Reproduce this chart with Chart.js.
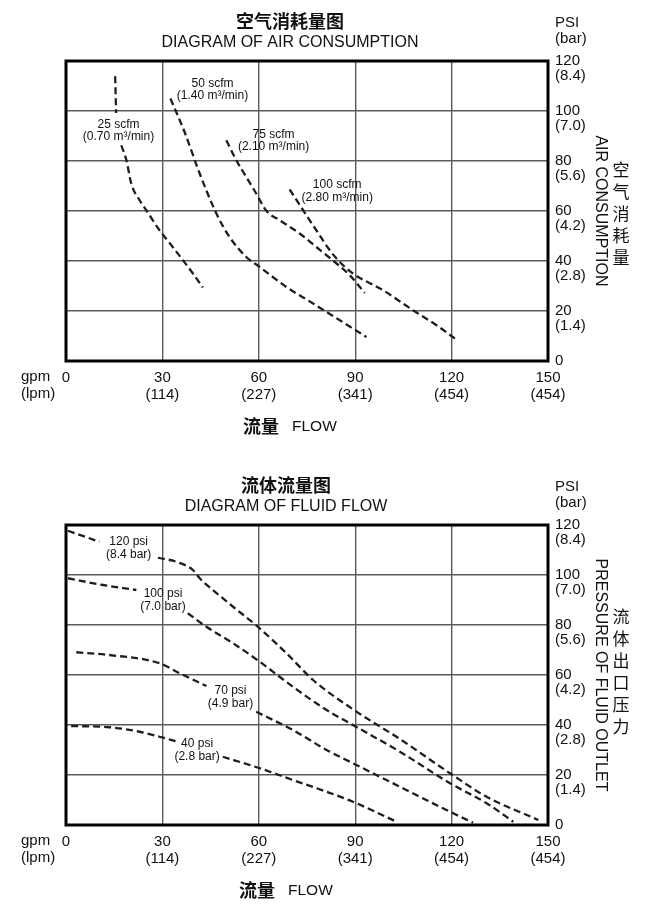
<!DOCTYPE html>
<html>
<head>
<meta charset="utf-8">
<script src="https://cdn.jsdelivr.net/npm/chart.js@4.4.1/dist/chart.umd.min.js"></script>
<style>
  html, body { margin: 0; padding: 0; background: #fff; }
  .wrap { position: absolute; left: 0; }
</style>
</head>
<body>
<div class="wrap" style="top:0"><canvas id="air" width="667" height="454"></canvas></div>
<div class="wrap" style="top:464px"><canvas id="fluid" width="667" height="454"></canvas></div>
<script>
// ---------- tick labels ----------
const gpmTicks = ['0', '30', '60', '90', '120', '150'];
const lpmTicks = ['', '(114)', '(227)', '(341)', '(454)', '(454)'];
const psiTicks = ['0', '20', '40', '60', '80', '100', '120'];
const barTicks = ['', '(1.4)', '(2.8)', '(4.2)', '(5.6)', '(7.0)', '(8.4)'];

// ---------- air consumption (x = gpm, y = psi); null = gap behind label ----------
const air25Flow = [15.3, 15.6, 16.4, 17.2, 18.8, 20.3, 22.9, 25.0, 29.1, 32.8, 36.4, 39.5, 42.6];
const air25Psi  = [113.9, 99.2, null, 86.3, 80.3, 71.0, 64.3, 60.3, 52.3, 46.3, 40.3, 35.0, 29.4];
const air50Flow = [32.5, 36.9, 41.6, 46.8, 50.9, 56.1, 60.3, 68.6, 76.9, 85.2, 93.5];
const air50Psi  = [105.0, 91.6, 75.0, 59.0, 49.6, 41.6, 37.6, 29.6, 23.0, 16.3, 9.6];
const air75Flow = [49.9, 53.0, 56.1, 59.2, 62.4, 66.5, 72.7, 77.9, 84.2, 88.3, 93.0];
const air75Psi  = [88.3, 80.3, 73.6, 67.0, 60.0, 56.3, 51.0, 45.6, 39.0, 34.3, 27.2];
const air100Flow = [69.6, 73.8, 77.9, 82.1, 85.2, 89.3, 98.7, 108.0, 115.3, 121.0];
const air100Psi  = [68.6, 60.3, 52.3, 44.3, 39.6, 35.0, 28.3, 20.3, 14.3, 9.0];
const airNames = ['25 scfm', '50 scfm', '75 scfm', '100 scfm'];
const airSubs  = ['(0.70 m³/min)', '(1.40 m³/min)', '(2.10 m³/min)', '(2.80 m³/min)'];

// ---------- fluid flow (x = gpm, y = outlet psi) ----------
const f120Flow = [0.6, 10.4, 19.5, 28.6, 34.3, 39.5, 41.6, 45.7, 52.0, 59.7, 68.6, 76.9, 89.3, 103.9, 119.5, 130.9, 147.0];
const f120Psi  = [117.7, 113.3, null, 106.9, 105.3, 102.0, 98.7, 94.0, 87.3, 79.3, 68.7, 58.0, 46.3, 34.4, 20.7, 11.3, 2.0];
const f100Flow = [0.6, 11.5, 21.9, 30.0, 37.9, 43.7, 52.0, 60.3, 70.6, 81.1, 89.3, 103.9, 119.5, 130.9, 139.2];
const f100Psi  = [98.7, 96.0, 94.0, null, 84.7, 79.3, 72.7, 65.3, 55.3, 46.0, 40.0, 29.3, 16.7, 8.7, 1.3];
const f70Flow = [3.2, 13.5, 29.1, 35.4, 43.7, 51.0, 59.2, 70.6, 81.1, 89.3, 103.9, 119.5, 126.7];
const f70Psi  = [69.1, 68.0, 64.7, 60.7, 55.6, null, 45.3, 38.0, 30.0, 24.7, 15.3, 5.3, 0.9];
const f40Flow = [1.6, 13.5, 22.9, 29.1, 34.8, 41.0, 48.8, 60.3, 70.6, 81.1, 89.3, 102.9];
const f40Psi  = [39.6, 39.1, 37.3, 35.3, 33.3, null, 27.3, 22.7, 18.0, 13.3, 9.3, 1.3];
const fluidNames = ['120 psi', '100 psi', '70 psi', '40 psi'];
const fluidSubs  = ['(8.4 bar)', '(7.0 bar)', '(4.9 bar)', '(2.8 bar)'];

// ---------- helpers ----------
const FONT = '"Liberation Sans", Arial, sans-serif';
const CJK = '"Noto Sans CJK SC", sans-serif';
const zip = (xs, ys) => xs.map((x, i) => ({ x: x, y: ys[i] }));

function series(xs, ys) {
  return {
    data: zip(xs, ys),
    borderColor: '#1e1e1e',
    borderWidth: 2.3,
    borderDash: [7, 4],
    pointRadius: 0,
    fill: false,
    spanGaps: false,
    cubicInterpolationMode: 'monotone'
  };
}

const extras = {
  id: 'extras',
  afterDraw(chart, args, o) {
    const { ctx, chartArea: a, scales } = chart;
    const sx = scales.x, sy = scales.y;
    ctx.save();
    // frame
    ctx.strokeStyle = '#000';
    ctx.lineWidth = 3;
    ctx.strokeRect(a.left, a.top, a.right - a.left, a.bottom - a.top);
    ctx.fillStyle = '#111';
    // titles
    ctx.textAlign = 'center';
    ctx.textBaseline = 'middle';
    ctx.font = 'bold 18px ' + CJK;
    ctx.fillText(o.cn, o.cx, 21);
    ctx.font = '16px ' + FONT;
    ctx.fillText(o.en, o.cx, 43);
    // PSI (bar)
    ctx.textAlign = 'left';
    ctx.font = '15px ' + FONT;
    ctx.fillText('PSI', a.right + 7, 23);
    ctx.fillText('(bar)', a.right + 7, 39);
    // gpm / lpm
    ctx.fillText('gpm', 21, a.bottom + 16);
    ctx.fillText('(lpm)', 21, a.bottom + 33);
    // flow axis title
    ctx.font = 'bold 18px ' + CJK;
    ctx.fillText('流量', o.cx - 47, a.bottom + 65);
    ctx.font = '15.5px ' + FONT;
    ctx.fillText('FLOW', o.cx + 2, a.bottom + 66);
    // vertical chinese axis text
    ctx.textAlign = 'center';
    ctx.font = '17px ' + CJK;
    const chars = Array.from(o.vert);
    const step = 22;
    const y0 = o.vertCenter - (chars.length - 1) * step / 2;
    chars.forEach((c, i) => ctx.fillText(c, 621, y0 + i * step));
    // curve labels
    ctx.font = '12px ' + FONT;
    o.names.forEach((n, i) => {
      const p = o.anchors[i];
      const px = sx.getPixelForValue(p[0]);
      const py = sy.getPixelForValue(p[1]);
      ctx.fillText(n, px, py);
      ctx.fillText(o.subs[i], px, py + 12.5);
    });
    ctx.restore();
  }
};

function makeChart(id, datasets, opts) {
  return new Chart(document.getElementById(id), {
    type: 'line',
    data: { datasets: datasets },
    plugins: [extras],
    options: {
      responsive: false,
      animation: false,
      devicePixelRatio: 1,
      layout: { padding: { left: 66, top: 61, right: 0, bottom: 0 } },
      plugins: {
        legend: { display: false },
        tooltip: { enabled: false },
        extras: opts
      },
      scales: {
        x: {
          type: 'linear',
          position: 'bottom',
          min: 0, max: 150,
          afterFit: s => { s.height = 93; },
          grid: { color: '#5a5a5a', lineWidth: 1.4, drawTicks: false },
          border: { display: false },
          ticks: {
            stepSize: 30,
            autoSkip: false,
            maxRotation: 0,
            padding: 9,
            color: '#111',
            font: { family: FONT, size: 15, lineHeight: 1.1 },
            callback: (v, i) => lpmTicks[i] ? [gpmTicks[i], lpmTicks[i]] : gpmTicks[i]
          }
        },
        y: {
          type: 'linear',
          position: 'right',
          min: 0, max: 120,
          afterFit: s => { s.width = 119; },
          grid: { color: '#5a5a5a', lineWidth: 1.4, drawTicks: false },
          border: { display: false },
          ticks: {
            stepSize: 20,
            autoSkip: false,
            padding: 7,
            labelOffset: 7.5,
            color: '#111',
            font: { family: FONT, size: 15, lineHeight: 1.0 },
            callback: (v, i) => [psiTicks[i], barTicks[i]]
          },
          title: {
            display: true,
            text: opts.yTitle,
            color: '#111',
            font: { family: FONT, size: 16, lineHeight: 1.2 },
            padding: { top: 57, bottom: 0 }
          }
        }
      }
    }
  });
}

makeChart('air', [
  series(air25Flow, air25Psi),
  series(air50Flow, air50Psi),
  series(air75Flow, air75Psi),
  series(air100Flow, air100Psi)
], {
  cn: '空气消耗量图',
  en: 'DIAGRAM OF AIR CONSUMPTION',
  cx: 290,
  yTitle: 'AIR CONSUMPTION',
  vert: '空气消耗量',
  vertCenter: 214,
  names: airNames,
  subs: airSubs,
  anchors: [[16.35, 94.7], [45.6, 111.1], [64.6, 90.7], [84.4, 70.5]]
});

makeChart('fluid', [
  series(f120Flow, f120Psi),
  series(f100Flow, f100Psi),
  series(f70Flow, f70Psi),
  series(f40Flow, f40Psi)
], {
  cn: '流体流量图',
  en: 'DIAGRAM OF FLUID FLOW',
  cx: 286,
  yTitle: 'PRESSURE OF FLUID OUTLET',
  vert: '流体出口压力',
  vertCenter: 208,
  names: fluidNames,
  subs: fluidSubs,
  anchors: [[19.5, 113.2], [30.2, 92.4], [51.2, 53.6], [40.8, 32.4]]
});
</script>
</body>
</html>
